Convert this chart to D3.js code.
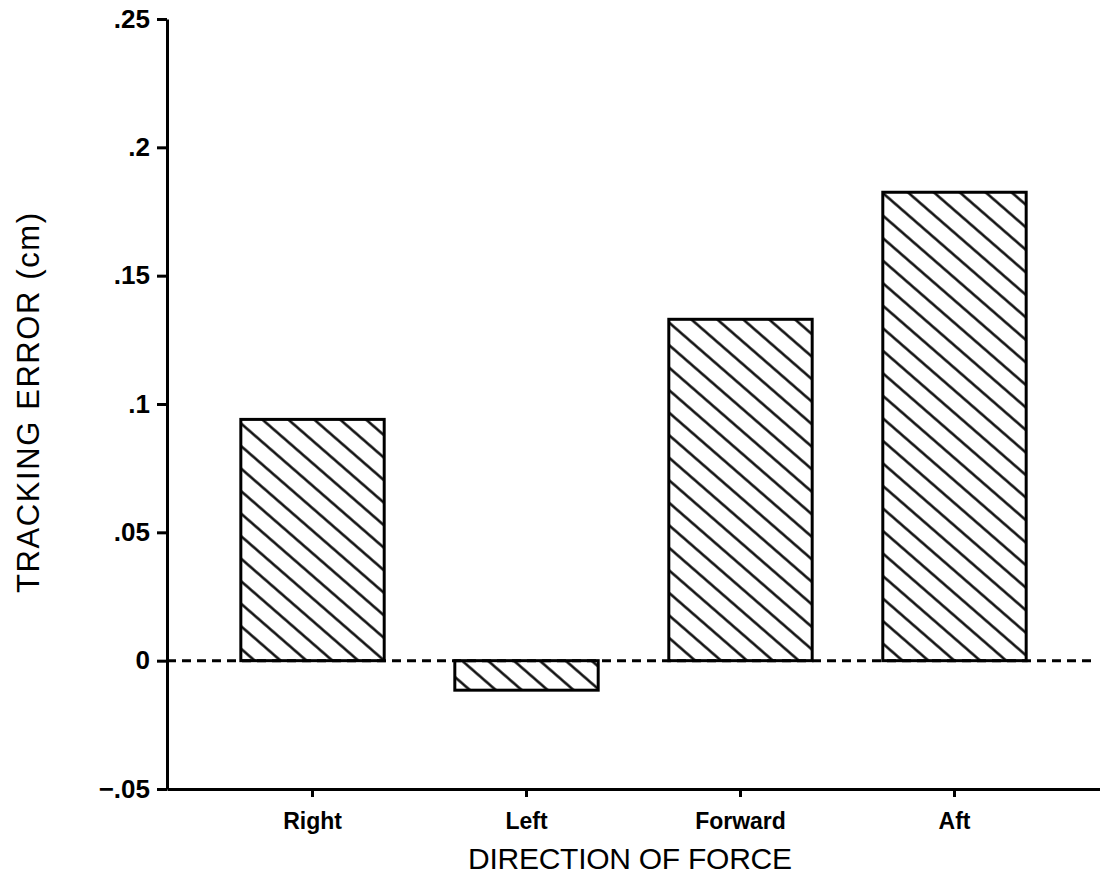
<!DOCTYPE html>
<html>
<head>
<meta charset="utf-8">
<script src="https://cdn.jsdelivr.net/npm/d3@7"></script>
<style>
	body { margin: 0; background: #fff; }
	svg { display: block; }
	.tick text { font-family: "Liberation Sans", Arial, sans-serif; font-weight: bold; fill: #000; }
	.axis-title { font-family: "Liberation Sans", Arial, sans-serif; fill: #000; }
</style>
</head>
<body>
<div id="chart"></div>
<script>
	// Data
	const directions = ["Right", "Left", "Forward", "Aft"];
	const trackingError = [0.094, -0.0115, 0.133, 0.1825];
	const yTicks = [-0.05, 0, 0.05, 0.1, 0.15, 0.2, 0.25];
	const yTickLabels = ["\u2212.05", "0", ".05", ".1", ".15", ".2", ".25"];

	const data = directions.map((d, i) => ({direction: d, value: trackingError[i]}));

	const svgWidth = 1100, svgHeight = 878;

	const svg = d3.select("#chart").append("svg")
		.attr("width", svgWidth)
		.attr("height", svgHeight);

	// Hatch pattern (lines running down to the right)
	svg.append("defs").append("pattern")
		.attr("id", "hatch")
		.attr("patternUnits", "userSpaceOnUse")
		.attr("width", 12)
		.attr("height", 17)
		.attr("patternTransform", "rotate(41)")
		.append("line")
		.attr("x1", -1).attr("x2", 13)
		.attr("y1", 8.5).attr("y2", 8.5)
		.attr("stroke", "#000")
		.attr("stroke-width", 2.4);

	// Scales
	const x = d3.scaleBand()
		.domain(directions)
		.range([167, 1100])
		.paddingInner(0.33)
		.paddingOuter(0.345);

	const y = d3.scaleLinear()
		.domain([-0.05, 0.25])
		.range([789, 19]);

	// Bars
	svg.selectAll(".bar")
		.data(data)
		.enter().append("rect")
		.attr("class", "bar")
		.attr("x", d => x(d.direction))
		.attr("width", x.bandwidth())
		.attr("y", d => y(Math.max(0, d.value)))
		.attr("height", d => Math.abs(y(d.value) - y(0)))
		.attr("fill", "url(#hatch)")
		.attr("stroke", "#000")
		.attr("stroke-width", 3);

	// Dashed zero line
	svg.append("line")
		.attr("x1", 167).attr("x2", 1095)
		.attr("y1", y(0)).attr("y2", y(0))
		.attr("stroke", "#000")
		.attr("stroke-width", 3)
		.attr("stroke-dasharray", "9,6");

	// Y axis
	const yAxis = svg.append("g")
		.attr("transform", "translate(167,0)")
		.call(d3.axisLeft(y)
			.tickValues(yTicks)
			.tickFormat((d, i) => yTickLabels[i])
			.tickSize(10)
			.tickSizeOuter(0)
			.tickPadding(7));
	yAxis.selectAll("path, line").attr("stroke", "#000").attr("stroke-width", 3);
	yAxis.selectAll("text").style("font-size", "26px");

	// X axis
	const xAxis = svg.append("g")
		.attr("transform", "translate(0," + y(-0.05) + ")")
		.call(d3.axisBottom(x)
			.tickSize(8)
			.tickSizeOuter(0)
			.tickPadding(16));
	xAxis.selectAll("path, line").attr("stroke", "#000").attr("stroke-width", 3);
	xAxis.selectAll("text").style("font-size", "23px");

	// Axis titles
	svg.append("text")
		.attr("class", "axis-title")
		.attr("x", 630)
		.attr("y", 869)
		.attr("text-anchor", "middle")
		.attr("textLength", 324)
		.style("font-size", "30px")
		.text("DIRECTION OF FORCE");

	svg.append("text")
		.attr("class", "axis-title")
		.attr("transform", "translate(39,403) rotate(-90)")
		.attr("text-anchor", "middle")
		.attr("textLength", 380)
		.style("font-size", "31px")
		.text("TRACKING ERROR (cm)");
</script>
</body>
</html>
